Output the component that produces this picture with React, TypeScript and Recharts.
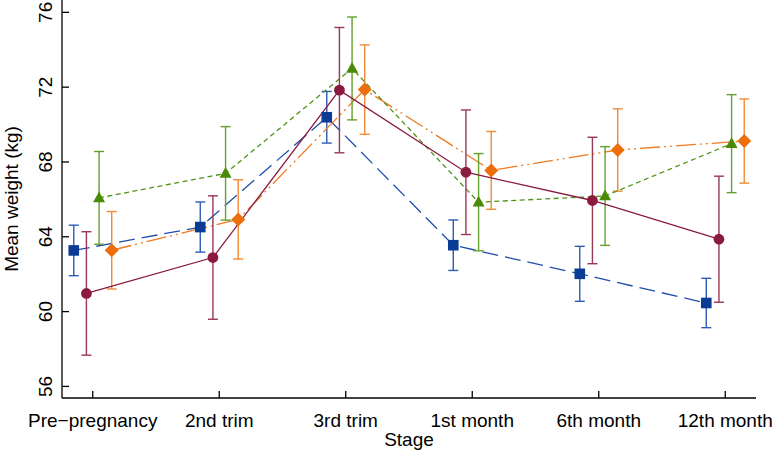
import React from 'react';
import { ComposedChart, Line, XAxis, YAxis, ErrorBar } from 'recharts';

const stages = ['Pre\u2212pregnancy', '2nd trim', '3rd trim', '1st month', '6th month', '12th month'];
const yTicks = [56, 60, 64, 68, 72, 76];

const blueMean = [63.27, 64.52, 70.39, 63.55, 62.02, 60.46];
const blueErr = [1.35, 1.34, 1.38, 1.35, 1.47, 1.32];
const maroonMean = [60.97, 62.89, 71.84, 67.45, 65.94, 63.87];
const maroonErr = [3.3, 3.3, 3.35, 3.33, 3.38, 3.37];
const greenMean = [66.08, 67.39, 73.0, 65.85, 66.18, 68.98];
const greenErr = [2.48, 2.5, 2.75, 2.6, 2.64, 2.62];
const orangeMean = [63.28, 64.93, 71.87, 67.55, 68.64, 69.12];
const orangeErr = [2.07, 2.12, 2.39, 2.08, 2.2, 2.25];

const offsets = { blue: -0.15, maroon: -0.05, green: 0.05, orange: 0.15 };

const build = (means: number[], errs: number[], off: number) =>
  means.map((m, i) => ({ x: i + off, y: m, err: errs[i] }));

const blueData = build(blueMean, blueErr, offsets.blue);
const maroonData = build(maroonMean, maroonErr, offsets.maroon);
const greenData = build(greenMean, greenErr, offsets.green);
const orangeData = build(orangeMean, orangeErr, offsets.orange);

const FONT = '"Liberation Sans", Arial, Helvetica, sans-serif';

const SquareDot = (p: any) => {
  const { cx, cy } = p;
  if (cx == null || cy == null) return null;
  return <rect key={`s${p.index}`} x={cx - 5.3} y={cy - 5.3} width={10.6} height={10.6} fill="#0a3c96" />;
};
const CircleDot = (p: any) => {
  const { cx, cy } = p;
  if (cx == null || cy == null) return null;
  return <circle key={`c${p.index}`} cx={cx} cy={cy} r={5.4} fill="#8a1a3e" />;
};
const TriDot = (p: any) => {
  const { cx, cy } = p;
  if (cx == null || cy == null) return null;
  return (
    <polygon
      key={`t${p.index}`}
      points={`${cx},${cy - 6.5} ${cx - 6},${cy + 4.3} ${cx + 6},${cy + 4.3}`}
      fill="#4a8a06"
    />
  );
};
const DiaDot = (p: any) => {
  const { cx, cy } = p;
  if (cx == null || cy == null) return null;
  return (
    <polygon
      key={`d${p.index}`}
      points={`${cx},${cy - 7} ${cx + 7},${cy} ${cx},${cy + 7} ${cx - 7},${cy}`}
      fill="#ef6e0c"
    />
  );
};

const XTick = (props: any) => {
  const { x, y, payload } = props;
  return (
    <g>
      <line x1={x} y1={y} x2={x} y2={y - 7} stroke="#000" strokeWidth={1.3} />
      <text x={x} y={y + 28.5} textAnchor="middle" fontSize={19} fontFamily={FONT} fill="#000">
        {stages[payload.value]}
      </text>
    </g>
  );
};

const YTick = (props: any) => {
  const { x, y, payload } = props;
  return (
    <g>
      <line x1={x} y1={y} x2={x + 7} y2={y} stroke="#000" strokeWidth={1.3} />
      <text
        x={x - 10}
        y={y}
        textAnchor="middle"
        fontSize={19}
        fontFamily={FONT}
        fill="#000"
        transform={`rotate(-90, ${x - 10}, ${y})`}
      >
        {payload.value}
      </text>
    </g>
  );
};

export default function App() {
  return (
    <div style={{ position: 'absolute', left: 0, top: 0, background: '#fff' }}>
      <ComposedChart width={775} height={452} margin={{ top: 0, right: 19, left: 0, bottom: 0 }}>
        <XAxis
          dataKey="x"
          type="number"
          domain={[-0.243, 5.243]}
          ticks={[0, 1, 2, 3, 4, 5]}
          allowDataOverflow
          height={54}
          tickSize={0}
          tickMargin={0}
          tickLine={false}
          axisLine={{ stroke: '#000', strokeWidth: 1.3 }}
          tick={<XTick />}
          interval={0}
          label={(lp: any) => {
            const vb = lp.viewBox || {};
            const cx = vb.x + vb.width / 2;
            return (
              <text x={cx} y={vb.y + 48} textAnchor="middle" fontSize={19} fontFamily={FONT} fill="#000">
                Stage
              </text>
            );
          }}
        />
        <YAxis
          type="number"
          domain={[55.38, 76.66]}
          ticks={yTicks}
          allowDataOverflow
          width={62}
          tickSize={0}
          tickMargin={0}
          tickLine={false}
          axisLine={{ stroke: '#000', strokeWidth: 1.3 }}
          tick={<YTick />}
          interval={0}
          label={(lp: any) => {
            const vb = lp.viewBox || {};
            const cy = vb.y + vb.height / 2;
            return (
              <text
                x={17.5}
                y={cy}
                textAnchor="middle"
                fontSize={19}
                fontFamily={FONT}
                fill="#000"
                transform={`rotate(-90, 17.5, ${cy})`}
              >
                Mean weight (kg)
              </text>
            );
          }}
        />
        <Line
          data={blueData}
          dataKey="y"
          stroke="#1f4fab"
          strokeWidth={1.3}
          strokeDasharray="16 7"
          dot={<SquareDot />}
          activeDot={false}
          isAnimationActive={false}
        >
          <ErrorBar dataKey="err" direction="y" width={5} stroke="#2d5cb5" strokeWidth={1.4} isAnimationActive={false} />
        </Line>
        <Line
          data={orangeData}
          dataKey="y"
          stroke="#f07a1e"
          strokeWidth={1.3}
          strokeDasharray="20 4 2 4 2 4"
          dot={<DiaDot />}
          activeDot={false}
          isAnimationActive={false}
        >
          <ErrorBar dataKey="err" direction="y" width={5} stroke="#f28a36" strokeWidth={1.4} isAnimationActive={false} />
        </Line>
        <Line
          data={greenData}
          dataKey="y"
          stroke="#4f9415"
          strokeWidth={1.3}
          strokeDasharray="5 3.5"
          dot={<TriDot />}
          activeDot={false}
          isAnimationActive={false}
        >
          <ErrorBar dataKey="err" direction="y" width={5} stroke="#64a02c" strokeWidth={1.4} isAnimationActive={false} />
        </Line>
        <Line
          data={maroonData}
          dataKey="y"
          stroke="#8a1a3e"
          strokeWidth={1.3}
          dot={<CircleDot />}
          activeDot={false}
          isAnimationActive={false}
        >
          <ErrorBar dataKey="err" direction="y" width={5} stroke="#9a3656" strokeWidth={1.4} isAnimationActive={false} />
        </Line>
      </ComposedChart>
    </div>
  );
}
